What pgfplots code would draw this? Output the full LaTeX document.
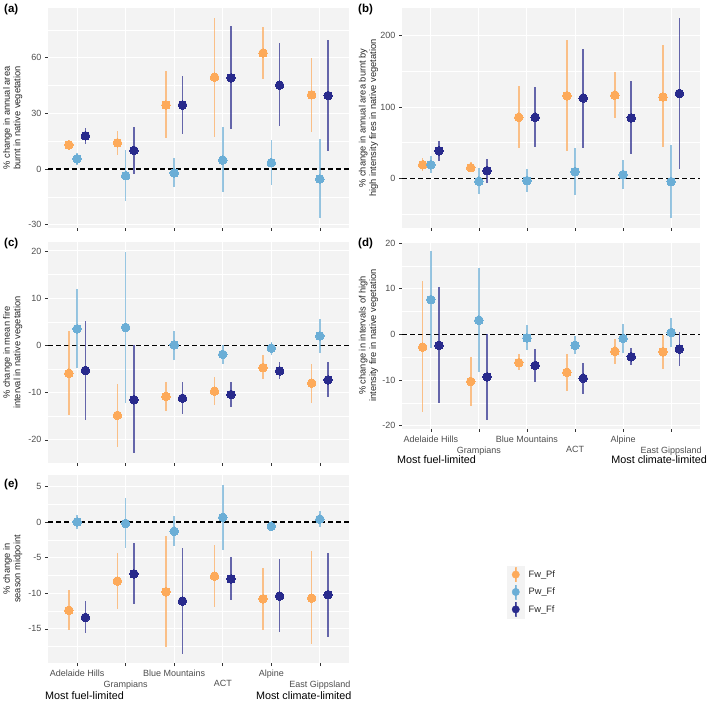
\documentclass[border=0pt]{standalone}
\usepackage{pgfplots}
\pgfplotsset{compat=1.18}
\usepackage{pgfplotstable}
\usepackage{fontspec}
\setmainfont{Liberation Sans}
\definecolor{cO}{RGB}{253,170,90}
\definecolor{cL}{RGB}{107,174,214}
\definecolor{cD}{RGB}{40,42,140}
\definecolor{bgc}{RGB}{243,243,243}
\definecolor{labc}{RGB}{77,77,77}
\definecolor{tickc}{RGB}{51,51,51}

% x o oh ol | l lh ll | d dh dl
\pgfplotstableread{
x o oh ol l lh ll d dh dl
1 13.0 15.4 10.9 5.5 8.6 2.0 17.9 22.1 13.4
2 14.1 20.7 7.3 -3.6 10.0 -17.1 10.0 22.7 -2.9
3 34.5 52.7 16.6 -2.1 5.7 -9.6 34.5 50.0 18.8
4 49.5 81.4 17.3 4.8 22.5 -12.5 49.1 77.0 21.8
5 62.5 76.6 48.6 3.4 15.5 -8.6 45.2 67.7 23.0
6 40.0 59.6 20.2 -5.4 16.3 -26.4 39.6 69.8 9.6
}\tA
\pgfplotstableread{
x o oh ol l lh ll d dh dl
1 19.0 27.9 9.8 19.0 30.7 7.4 38.6 52.0 24.7
2 14.9 22.3 8.4 -4.2 14.0 -21.9 10.7 27.4 -6.0
3 85.6 129.0 42.3 -3.3 13.5 -19.5 85.6 128.8 44.2
4 115.8 194.4 37.7 9.3 42.8 -23.3 112.6 181.9 42.8
5 116.7 149.3 84.7 5.1 26.0 -15.3 84.7 136.3 34.0
6 114.0 186.5 43.3 -4.7 46.5 -55.8 119.0 225.0 13.0
}\tB
\pgfplotstableread{
x o oh ol l lh ll d dh dl
1 -5.9 3.0 -14.7 3.5 11.9 -4.7 -5.3 5.2 -15.8
2 -14.8 -8.2 -21.5 3.8 19.8 -12.2 -11.5 0.0 -22.8
3 -10.8 -7.7 -13.8 0.1 3.1 -3.0 -11.2 -7.8 -14.6
4 -9.7 -6.7 -12.6 -1.9 0.1 -4.0 -10.4 -7.7 -13.1
5 -4.7 -2.1 -7.1 -0.6 0.8 -2.0 -5.4 -3.5 -7.1
6 -8.0 -4.0 -12.1 2.0 5.6 -1.7 -7.3 -3.5 -11.0
}\tC
\pgfplotstableread{
x o oh ol l lh ll d dh dl
1 -2.8 11.6 -17.0 7.6 18.3 -3.0 -2.4 10.3 -15.0
2 -10.3 -4.9 -15.7 3.1 14.6 -8.3 -9.3 0.0 -18.8
3 -6.2 -4.4 -7.9 -0.8 2.0 -3.5 -6.8 -3.1 -10.4
4 -8.3 -4.2 -12.3 -2.4 -0.3 -4.4 -9.6 -6.2 -13.1
5 -3.7 -1.0 -6.4 -0.9 2.3 -4.1 -4.9 -3.0 -6.7
6 -3.8 -0.1 -7.6 0.4 3.6 -2.8 -3.2 0.5 -6.9
}\tD
\pgfplotstableread{
x o oh ol l lh ll d dh dl
1 -12.4 -9.6 -15.2 0.0 1.0 -1.0 -13.4 -11.1 -15.6
2 -8.3 -4.4 -12.2 -0.2 3.4 -3.7 -7.3 -3.0 -11.5
3 -9.8 -1.9 -17.6 -1.3 0.8 -3.4 -11.1 -3.6 -18.6
4 -7.6 -3.2 -12.0 0.65 5.2 -3.9 -8.0 -4.9 -11.0
5 -10.8 -6.4 -15.2 -0.6 -0.1 -1.1 -10.4 -5.2 -15.4
6 -10.7 -4.1 -17.2 0.4 1.5 -0.7 -10.2 -4.3 -16.1
}\tE

\pgfplotsset{
 panel/.style={
  scale only axis, xmin=0.4, xmax=6.6, xtick={1,...,6}, xticklabels={},
  axis line style={draw=none},
  tick align=outside, major tick length=3pt, minor tick length=0pt,
  tick style={tickc, line width=0.6pt},
  xtick pos=bottom, ytick pos=left,
  xmajorgrids, ymajorgrids, yminorgrids,
  major grid style={white, line width=1pt},
  minor grid style={white, line width=0.5pt},
  axis background/.style={fill=bgc},
  ticklabel style={font=\fontsize{9}{10}\selectfont, text=labc},
  ylabel style={at={(axis description cs:-0.085,0.5)}, rotate=0, anchor=south,
    font=\fontsize{9.3}{10.5}\selectfont, align=center, text=black!85, inner sep=0pt},
  clip=false,
 },
 cat/.style={
  xtick={1,3,5}, xticklabels={Adelaide Hills, Blue Mountains, Alpine},
  extra x ticks={2,4,6}, extra x tick labels={Grampians, ACT, East Gippsland},
  extra x tick style={grid=major, xticklabel style={yshift=-11pt}},
 },
 bars/.style={only marks, mark=none, color=#1, forget plot,
  error bars/.cd, y dir=both, y explicit, error mark=none,
  error bar style={line width=1.6pt, opacity=0.7}},
 pts/.style={only marks, mark=*, mark size=4.3pt, color=#1, mark options={line width=0pt},
  legend image code/.code={
   \fill[bgc] (0pt,-8.5pt) rectangle (17.3pt,8.5pt);
   \fill[opacity=0.7] (7.95pt,-7pt) rectangle (9.35pt,7pt);
   \fill (8.65pt,0pt) circle (3.7pt);
  }},
}
\newcommand\zeroline{\draw[black, line width=1.1pt, dash pattern=on 5pt off 3pt] (axis cs:0.4,0) -- (axis cs:6.6,0);}
\newcommand\threeplots[1]{%
 \addplot[bars=cO] table[x expr=\thisrow{x}-0.17, y=o, y error plus expr=\thisrow{oh}-\thisrow{o}, y error minus expr=\thisrow{o}-\thisrow{ol}] {#1};
 \addplot[bars=cL] table[x=x, y=l, y error plus expr=\thisrow{lh}-\thisrow{l}, y error minus expr=\thisrow{l}-\thisrow{ll}] {#1};
 \addplot[bars=cD] table[x expr=\thisrow{x}+0.17, y=d, y error plus expr=\thisrow{dh}-\thisrow{d}, y error minus expr=\thisrow{d}-\thisrow{dl}] {#1};
 \addplot[pts=cO] table[x expr=\thisrow{x}-0.17, y=o] {#1};
 \addplot[pts=cL] table[x=x, y=l] {#1};
 \addplot[pts=cD] table[x expr=\thisrow{x}+0.17, y=d] {#1};
}

\begin{document}
\begin{tikzpicture}[x=1pt,y=1pt]
\useasboundingbox (0pt,0pt) rectangle (709pt,709pt);

% (a)
\begin{axis}[panel, at={(48pt,701pt)}, anchor=north west, width=301pt, height=220pt,
  ymin=-31.8, ymax=86.8, ytick={-30,0,30,60}, yticklabels={-30,0,30,60}, minor ytick={-15,15,45,75},
  ylabel={\% change in annual area\\burnt in native vegetation}]
\zeroline
\threeplots{\tA}
\end{axis}

% (b)
\begin{axis}[panel, at={(402pt,701pt)}, anchor=north west, width=298pt, height=220pt,
  ymin=-69.8, ymax=239, ytick={0,100,200}, yticklabels={0,100,200}, minor ytick={-50,50,150},
  ylabel style={at={(axis description cs:-0.08,0.5)}},
  ylabel={\% change in annual area burnt by\\high intensity fires in native vegetation}]
\zeroline
\threeplots{\tB}
\end{axis}

% (c)
\begin{axis}[panel, at={(48pt,467pt)}, anchor=north west, width=301pt, height=221pt,
  ymin=-24.9, ymax=21.9, ytick={-20,-10,0,10,20}, yticklabels={-20,-10,0,10,20}, minor ytick={-15,-5,5,15},
  ylabel={\% change in mean fire\\interval in native vegetation}]
\zeroline
\threeplots{\tC}
\end{axis}

% (d)
\begin{axis}[panel, cat, at={(402pt,467pt)}, anchor=north west, width=298pt, height=187pt,
  ymin=-20.7, ymax=20.2, ytick={-20,-10,0,10,20}, yticklabels={-20,-10,0,10,20}, minor ytick={-15,-5,5,15},
  ylabel style={at={(axis description cs:-0.08,0.5)}},
  ylabel={\% change in intervals of high\\intensity fire in native vegetation}]
\zeroline
\threeplots{\tD}
\end{axis}

% (e)
\begin{axis}[panel, cat, at={(48pt,234pt)}, anchor=north west, width=301pt, height=188pt,
  ymin=-19.8, ymax=6.6, ytick={-15,-10,-5,0,5}, yticklabels={-15,-10,-5,0,5}, minor ytick={-17.5,-12.5,-7.5,-2.5,2.5},
  ylabel={\% change in\\season midpoint},
  legend cell align=left,
  legend style={at={(axis description cs:1.524,0.5176)}, anchor=north west, draw=none, fill=none,
    inner sep=0pt, row sep=0pt, column sep=4pt,
    nodes={inner sep=0pt, font=\fontsize{9.3}{10}\selectfont, text=black!85}}]
\zeroline
\threeplots{\tE}
\legend{Fw\_Pf, Pw\_Ff, Fw\_Ff}
\end{axis}

% panel letters
\node[anchor=west, inner sep=0pt, font=\bfseries\fontsize{11.5}{12}\selectfont] at (4pt,699pt) {(a)};
\node[anchor=west, inner sep=0pt, font=\bfseries\fontsize{11.5}{12}\selectfont] at (358pt,699pt) {(b)};
\node[anchor=west, inner sep=0pt, font=\bfseries\fontsize{11.5}{12}\selectfont] at (4pt,465pt) {(c)};
\node[anchor=west, inner sep=0pt, font=\bfseries\fontsize{11.5}{12}\selectfont] at (358pt,465pt) {(d)};
\node[anchor=west, inner sep=0pt, font=\bfseries\fontsize{11.5}{12}\selectfont] at (4pt,224pt) {(e)};

% gradient annotations
\node[anchor=west, inner sep=0pt, font=\fontsize{10.8}{12}\selectfont] at (397pt,249pt) {Most fuel-limited};
\node[anchor=east, inner sep=0pt, font=\fontsize{10.8}{12}\selectfont] at (707pt,249pt) {Most climate-limited};
\node[anchor=west, inner sep=0pt, font=\fontsize{10.8}{12}\selectfont] at (45pt,13.3pt) {Most fuel-limited};
\node[anchor=east, inner sep=0pt, font=\fontsize{10.8}{12}\selectfont] at (351.7pt,13.3pt) {Most climate-limited};
\end{tikzpicture}
\end{document}
